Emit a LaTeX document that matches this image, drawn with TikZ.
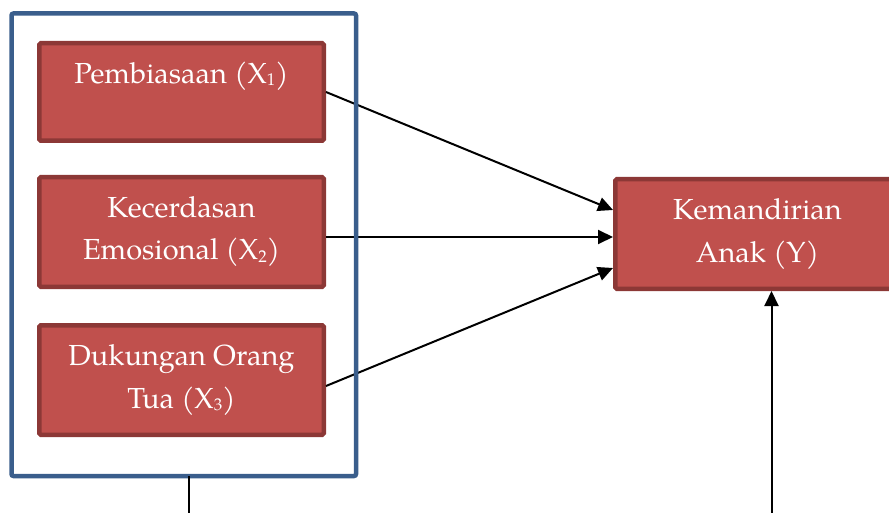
\documentclass[tikz,border=0pt]{standalone}
\usepackage{fontspec}
\setmainfont{TeX Gyre Pagella}
\usetikzlibrary{arrows.meta}
\definecolor{redfill}{HTML}{C0504D}
\definecolor{redline}{HTML}{8C3836}
\definecolor{bluebox}{HTML}{3A5E8C}
\newcommand\mysubs[1]{\raisebox{-2pt}{\fontsize{17}{17}\selectfont #1}}
\tikzset{
  varbox/.style={rectangle, draw=redline, fill=redfill, line width=4.5pt,
    rounded corners=1.5pt, inner sep=0pt, minimum width=284.5pt, minimum height=109.5pt},
  lbl/.style={text=white, inner sep=0pt, anchor=base,
    font=\fontsize{29}{40}\selectfont},
  conn/.style={line width=2pt, -{Triangle[length=15pt,width=14pt]}},
  plain/.style={line width=2pt}
}
\begin{document}
\begin{tikzpicture}[x=1pt,y=-1pt]
\useasboundingbox (0,0) rectangle (889,513);
\clip (0,0) rectangle (889,513);
% boxes
\node[varbox, minimum height=97.5pt] (X1) at (181.5,92) {};
\node[varbox] (X2) at (181.5,232) {};
\node[varbox] (X3) at (181.5,380) {};
\node[varbox] (Y) at (757.5,234) {};
% connectors
\coordinate (x1s) at ([yshift=0pt]X1.east);
\coordinate (x2s) at ([yshift=-5pt]X2.east);
\coordinate (x3s) at ([yshift=-6pt]X3.east);
\draw[conn] (x1s) -- ([yshift=24pt]Y.west);
\draw[conn] (x2s) -- ([yshift=-3pt]Y.west);
\draw[conn] (x3s) -- ([yshift=-34pt]Y.west);
% group frame
\draw[bluebox, line width=4.5pt, rounded corners=2pt] (11.5,13.5) rectangle (356,476);
\coordinate (G) at (189,476);
\coordinate (Gend) at (189,520);
\draw[plain] (G) -- (Gend);
\coordinate (Ybot) at (771.5,520);
\draw[conn] (Ybot) -- (Y.south -| Ybot);
% labels
\node[lbl] (t1) at (181.5,84) {Pembiasaan (X\mysubs{1})};
\node[lbl] (t2a) at (181.5,218) {Kecerdasan};
\node[lbl] (t2b) at (181.5,260) {Emosional (X\mysubs{2})};
\node[lbl] (t3a) at (181.5,365) {Dukungan Orang};
\node[lbl] (t3b) at (181.5,408) {Tua (X\mysubs{3})};
\node[lbl] (ty1) at (757.5,220) {Kemandirian};
\node[lbl] (ty2) at (757.5,262) {Anak (Y)};
\end{tikzpicture}
\end{document}
